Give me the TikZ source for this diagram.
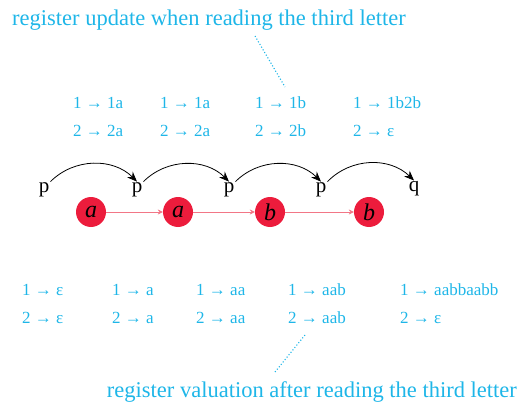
\documentclass[tikz,border=0pt]{standalone}
\usepackage{fontspec}
\setmainfont{Liberation Serif}
\usepackage{xcolor}
\usetikzlibrary{arrows.meta,positioning}
\definecolor{regblue}{RGB}{30,182,232}
\definecolor{letred}{RGB}{236,28,60}
\definecolor{linkred}{RGB}{242,118,134}
\tikzset{
  st/.style={inner sep=1pt, font=\fontsize{21}{21}\selectfont},
  letnode/.style={circle, fill=letred, minimum size=30pt, inner sep=0pt, font=\fontsize{24}{24}\selectfont\itshape},
  reg/.style={anchor=west, inner sep=0pt, text=regblue, font=\fontsize{17}{17}\selectfont},
  lab/.style={inner sep=0pt, text=regblue, font=\fontsize{22.5}{22.5}\selectfont},
  tarr/.style={-{Stealth[length=10pt,width=8pt]}, thick},
  larr/.style={-{Stealth[length=5pt,width=5pt]}, linkred, thin},
  pointer/.style={regblue, dotted, line width=1.1pt}
}
\newcommand{\rg}[2]{#1 → #2}

\begin{document}
\begin{tikzpicture}[x=1pt,y=-1pt]
\useasboundingbox (0,0) rectangle (519,409);
% labels
\node[lab, anchor=west] (toplab) at (12,20) {register update when reading the third letter};
\node[lab, anchor=east] (botlab) at (517,392) {register valuation after reading the third letter};
% states and letters
\node[st] (p0) at (44,190) {p};
\node[st] (p1) at (137,190) {p};
\node[st] (p2) at (229,190) {p};
\node[st] (p3) at (321,190) {p};
\node[st] (q) at (414,189) {q};
\node[letnode] (l1) at (91,212) {a};
\node[letnode] (l2) at (178,212) {a};
\node[letnode] (l3) at (270,212) {b};
\node[letnode] (l4) at (369,212) {b};
\draw[tarr] (p0.north east) to[bend left=45] (p1.north);
\draw[tarr] (p1.north east) to[bend left=45] (p2.north);
\draw[tarr] (p2.north east) to[bend left=45] (p3.north);
\draw[tarr] (p3.north east) to[bend left=45] (q.north);
\draw[larr] (l1) -- (l2); \draw[larr] (l2) -- (l3); \draw[larr] (l3) -- (l4);
% updates
\node[reg] (u1a) at (73,103) {\rg{1}{1a}};
\node[reg] (u1b) at (73,131) {\rg{2}{2a}};
\node[reg] (u2a) at (160,103) {\rg{1}{1a}};
\node[reg] (u2b) at (160,131) {\rg{2}{2a}};
\node[reg] (u3a) at (255,103) {\rg{1}{1b}};
\node[reg] (u3b) at (255,131) {\rg{2}{2b}};
\node[reg] (u4a) at (353,103) {\rg{1}{1b2b}};
\node[reg] (u4b) at (353,131) {\rg{2}{ε}};
% valuations
\node[reg] (v1a) at (22,290) {\rg{1}{ε}};
\node[reg] (v1b) at (22,318) {\rg{2}{ε}};
\node[reg] (v2a) at (112,290) {\rg{1}{a}};
\node[reg] (v2b) at (112,318) {\rg{2}{a}};
\node[reg] (v3a) at (196,290) {\rg{1}{aa}};
\node[reg] (v3b) at (196,318) {\rg{2}{aa}};
\node[reg] (v4a) at (288,290) {\rg{1}{aab}};
\node[reg] (v4b) at (288,318) {\rg{2}{aab}};
\node[reg] (v5a) at (400,290) {\rg{1}{aabbaabb}};
\node[reg] (v5b) at (400,318) {\rg{2}{ε}};
% pointers
\coordinate (c1) at (255,36);
\coordinate (c2) at (285,87);
\coordinate (c3) at (305,335);
\coordinate (c4) at (275,372);
\draw[pointer] (c1) -- (c2);
\draw[pointer] (c3) -- (c4);
\end{tikzpicture}
\end{document}
